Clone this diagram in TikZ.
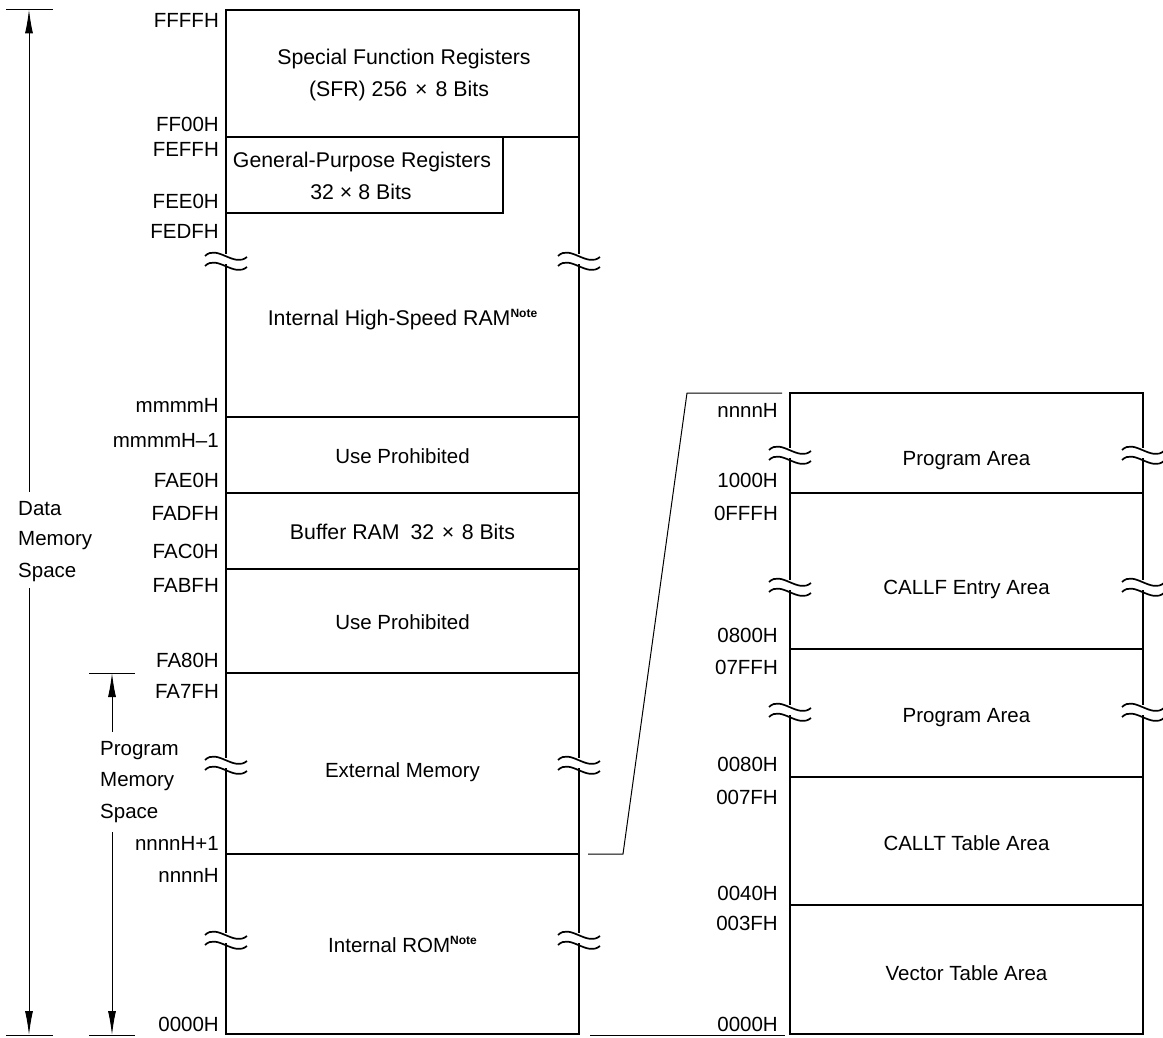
\documentclass[tikz,border=0pt]{standalone}
\usepackage{fontspec}
\setmainfont{Liberation Sans}
\usetikzlibrary{arrows.meta}
\newcommand\wavemark[2]{%
  \fill[white] ({#1-4},{#2-2}) rectangle ({#1+4},{#2+8});
  \draw[line width=1.7pt] ({#1-21},{#2}) .. controls ({#1-9},{#2-12}) and ({#1+8},{#2+12}) .. ({#1+21},{#2+1});
  \draw[line width=1.7pt] ({#1-21},{#2+10}) .. controls ({#1-9},{#2-2}) and ({#1+8},{#2+22}) .. ({#1+21},{#2+11});
}
\begin{document}
\begin{tikzpicture}[x=1pt,y=-1pt,
  lbl/.style={inner sep=0pt, font=\fontsize{20.5}{24}\selectfont},
  addrL/.style={lbl, anchor=base east},
  side/.style={lbl, anchor=base west},
  area/.style={lbl, anchor=base},
  bigarea/.style={area, font=\fontsize{21.3}{25}\selectfont},
  boxline/.style={line width=2.4pt},
  divline/.style={line width=1.3pt},
  thinline/.style={line width=1pt},
  dim/.style={line width=1pt, {Latex[length=24pt,width=8pt]}-{Latex[length=24pt,width=8pt]}},
]
\useasboundingbox (0,0) rectangle (1163,1038);
\newcommand\notemark{\raisebox{8pt}{\fontsize{12}{12}\selectfont\bfseries Note}}

% ---------- left box ----------
\coordinate (L-nw) at (226,10);
\coordinate (L-se) at (579,1034);
\draw[divline] (226,137) -- (579,137);
\draw[divline] (503,137) -- (503,213) -- (226,213);
\foreach \yy in {417,493,569,673,854} \draw[divline] (226,\yy) -- (579,\yy);
\draw[boxline] (L-nw) rectangle (L-se);

% ---------- right box ----------
\coordinate (R-nw) at (790,393);
\coordinate (R-se) at (1143,1034);
\foreach \yy in {493,649,777,905} \draw[divline] (790,\yy) -- (1143,\yy);
\draw[boxline] (R-nw) rectangle (R-se);

% ---------- break marks ----------
\foreach \yy in {256,760,935} {\wavemark{226}{\yy}\wavemark{579}{\yy}}
\foreach \yy in {450,582,707} {\wavemark{790}{\yy}\wavemark{1143}{\yy}}

% ---------- connectors ----------
\coordinate (c1) at (588,854);
\coordinate (c2) at (623,854);
\coordinate (c3) at (687,393);
\coordinate (c4) at (782,393);
\draw[thinline] (c1) -- (c2) -- (c3) -- (c4);
\coordinate (b1) at (590,1035);
\coordinate (b2) at (785,1035);
\draw[thinline] (b1) -- (b2);

% ---------- dimension arrows ----------
\coordinate (dtop) at (29,9.5);
\coordinate (dbot) at (29,1035);
\draw[thinline] (6,9.5) -- (53,9.5);
\draw[thinline] (6,1035) -- (53,1035);
\draw[dim] (dtop) -- (dbot);
\fill[white] (22,492) rectangle (36,588);

\coordinate (ptop) at (112,673);
\coordinate (pbot) at (112,1035);
\draw[thinline] (89,673) -- (135,673);
\draw[thinline] (89,1035) -- (135,1035);
\draw[dim] (ptop) -- (pbot);
\fill[white] (105,732) rectangle (119,832);

\node[side] (d1) at (18,515) {Data};
\node[side] (d2) at (18,545) {Memory};
\node[side] (d3) at (18,577) {Space};
\node[side] (p1) at (100,755) {Program};
\node[side] (p2) at (100,786) {Memory};
\node[side] (p3) at (100,818) {Space};

% ---------- left addresses ----------
\node[addrL] (a1) at (219,28) {FFFFH};
\node[addrL] (a2) at (219,132) {FF00H};
\node[addrL] (a3) at (219,157) {FEFFH};
\node[addrL] (a4) at (219,209) {FEE0H};
\node[addrL] (a5) at (219,239) {FEDFH};
\node[addrL] (a6) at (219,412) {mmmmH};
\node[addrL] (a7) at (219,447) {mmmmH–1};
\node[addrL] (a8) at (219,487) {FAE0H};
\node[addrL] (a9) at (219,520) {FADFH};
\node[addrL] (a10) at (219,558) {FAC0H};
\node[addrL] (a11) at (219,592) {FABFH};
\node[addrL] (a12) at (219,667) {FA80H};
\node[addrL] (a13) at (219,698) {FA7FH};
\node[addrL] (a14) at (219,850) {nnnnH+1};
\node[addrL] (a15) at (219,882) {nnnnH};
\node[addrL] (a16) at (219,1031) {0000H};

% ---------- right addresses ----------
\node[addrL] (r1) at (778,417) {nnnnH};
\node[addrL] (r2) at (778,487) {1000H};
\node[addrL] (r3) at (778,520) {0FFFH};
\node[addrL] (r4) at (778,642) {0800H};
\node[addrL] (r5) at (778,674) {07FFH};
\node[addrL] (r6) at (778,771) {0080H};
\node[addrL] (r7) at (778,804) {007FH};
\node[addrL] (r8) at (778,900) {0040H};
\node[addrL] (r9) at (778,930) {003FH};
\node[addrL] (r10) at (778,1031) {0000H};

% ---------- left areas ----------
\node[bigarea] (t1) at (404,65) {Special Function Registers};
\node[bigarea] (t2) at (399,97) {(SFR) 256\hspace{8pt}×\hspace{8pt}8 Bits};
\node[bigarea] (t3) at (362,168) {General-Purpose Registers};
\node[bigarea] (t4) at (361,200) {32 × 8 Bits};
\node[bigarea] (t5) at (402.5,325) {Internal High-Speed RAM\notemark};
\node[area] (t6) at (402.5,463) {Use Prohibited};
\node[bigarea] (t7) at (402.5,539) {Buffer RAM\hspace{11pt}32\hspace{7.5pt}×\hspace{7.5pt}8 Bits};
\node[area] (t8) at (402.5,629) {Use Prohibited};
\node[area] (t9) at (402.5,777) {External Memory};
\node[area] (t10) at (402.5,952) {Internal ROM\notemark};

% ---------- right areas ----------
\node[area] (s1) at (966.5,465) {Program Area};
\node[area] (s2) at (966.5,594) {CALLF Entry Area};
\node[area] (s3) at (966.5,722) {Program Area};
\node[area] (s4) at (966.5,850) {CALLT Table Area};
\node[area] (s5) at (966.5,980) {Vector Table Area};
\end{tikzpicture}
\end{document}
